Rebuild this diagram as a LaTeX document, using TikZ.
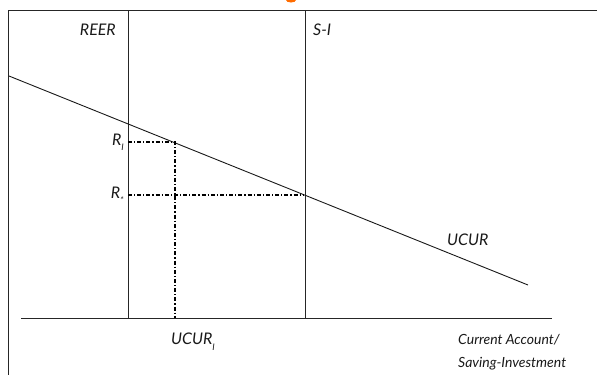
\documentclass[tikz,border=0pt]{standalone}
\usepackage{fontspec}
\setmainfont{Lato}
\begin{document}
\begin{tikzpicture}[x=1pt,y=-1pt,
  frameline/.style={line width=0.9pt,draw=black!85},
  axisline/.style={line width=0.9pt,draw=black!85},
  curveline/.style={line width=0.9pt,draw=black!90},
  dashdotline/.style={line width=1.3pt,draw=black,dash pattern=on 4pt off 2pt on 1.2pt off 2pt},
  lbl/.style={font=\itshape\fontsize{16}{18}\selectfont,inner sep=0pt,text=black!90}]
\useasboundingbox (0,0) rectangle (597,375);
\begin{scope}
\clip (0,0) rectangle (597,375);
\fill[orange!85!red] (291,0) ellipse [x radius=5, y radius=2.5];
\end{scope}
% frame
\coordinate (ftl) at (8,10);
\coordinate (ftr) at (597,10);
\coordinate (fbl) at (8,375);
\draw[frameline] (ftr) -- (ftl) -- (fbl);
% axes and verticals
\coordinate (ha) at (21,318);
\coordinate (hb) at (552,318);
\draw[axisline] (ha) -- (hb);
\coordinate (reerT) at (128,10);
\coordinate (reerB) at (128,318);
\draw[axisline] (reerT) -- (reerB);
\coordinate (siT) at (305,10);
\coordinate (siB) at (305,318);
\draw[axisline] (siT) -- (siB);
% UCUR line
\coordinate (uA) at (9,76);
\coordinate (uB) at (528,285);
\draw[curveline] (uA) -- (uB);
% dash-dot lines
\coordinate (r1L) at (128,142);
\coordinate (r1R) at (175,142);
\coordinate (r1B) at (175,318);
\coordinate (rsL) at (128,195);
\coordinate (rsR) at (304,195);
\draw[dashdotline] (r1L) -- (r1R) -- (r1B);
\draw[dashdotline] (rsL) -- (rsR);
% labels
\node[lbl,anchor=east] (reer) at (116,30) {REER};
\node[lbl,anchor=west] (si) at (313,30) {S-I};
\node[lbl,anchor=east] (r1) at (124,142) {R\raisebox{-0.6ex}{\fontsize{9}{10}\selectfont I}};
\node[lbl,anchor=east] (rs) at (124,195) {R\raisebox{-0.6ex}{\fontsize{9}{10}\selectfont *}};
\node[lbl,anchor=west] (ucur) at (447,240) {UCUR};
\node[lbl,anchor=west] (ucur1) at (171,342) {UCUR\raisebox{-0.7ex}{\fontsize{9}{10}\selectfont I}};
\node[lbl,anchor=north west,align=left,font=\itshape\fontsize{14}{23}\selectfont] (ca) at (458,334) {Current Account/\\Saving-Investment};
\end{tikzpicture}
\end{document}
